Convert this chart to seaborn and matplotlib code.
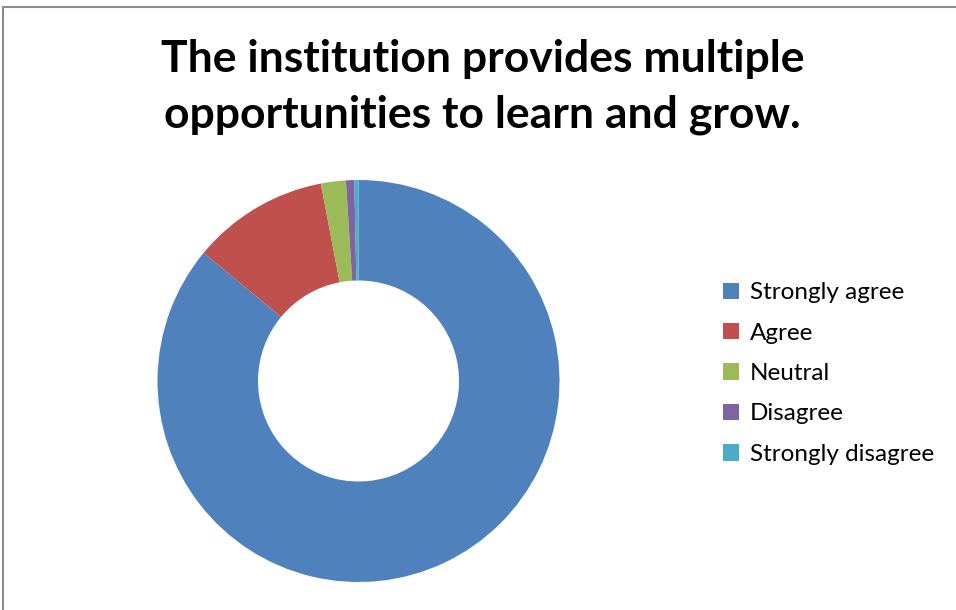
import matplotlib.pyplot as plt
import seaborn as sns
from matplotlib.patches import Rectangle

labels = ['Strongly agree', 'Agree', 'Neutral', 'Disagree', 'Strongly disagree']
counts = [258, 33, 6, 2, 1]
colors = ['#4F81BD', '#C0504D', '#9BBB59', '#8064A2', '#4BACC6']

sns.set_style('white')
plt.rcParams['font.family'] = ['Lato', 'DejaVu Sans']
plt.rcParams['text.color'] = 'black'

fig = plt.figure(figsize=(9.56, 6.1), dpi=100)

# donut placed in pixel terms: centre ~ (358, 381), outer radius ~201
ax = fig.add_axes([157.5 / 956, 28 / 610, 402 / 956, 402 / 610])
wedges, _ = ax.pie(counts, colors=sns.color_palette(colors), startangle=90,
                   counterclock=False, radius=1,
                   wedgeprops=dict(width=0.5, linewidth=0))
ax.set_xlim(-1, 1)
ax.set_ylim(-1, 1)
ax.set_aspect('equal')

fig.text(0.505, 1 - 87 / 610,
         'The institution provides multiple\nopportunities to learn and grow.',
         ha='center', va='center', fontsize=32, fontweight='bold',
         color='black', linespacing=1.45)

fig.legend(wedges, labels, loc='upper left',
           bbox_to_anchor=(711 / 956, 1 - 270 / 610),
           frameon=False, fontsize=17.5, handlelength=0.65, handleheight=0.65,
           handletextpad=0.45, labelspacing=0.8, borderpad=0,
           labelcolor='black')

# grey chart border
fig.patches.append(Rectangle((3 / 956, -0.05), 960 / 956, 1.05 - 7 / 610,
                             transform=fig.transFigure, fill=False,
                             edgecolor='#8c8c8c', linewidth=1.5))

fig.savefig('out.png', dpi=100, facecolor='white')
